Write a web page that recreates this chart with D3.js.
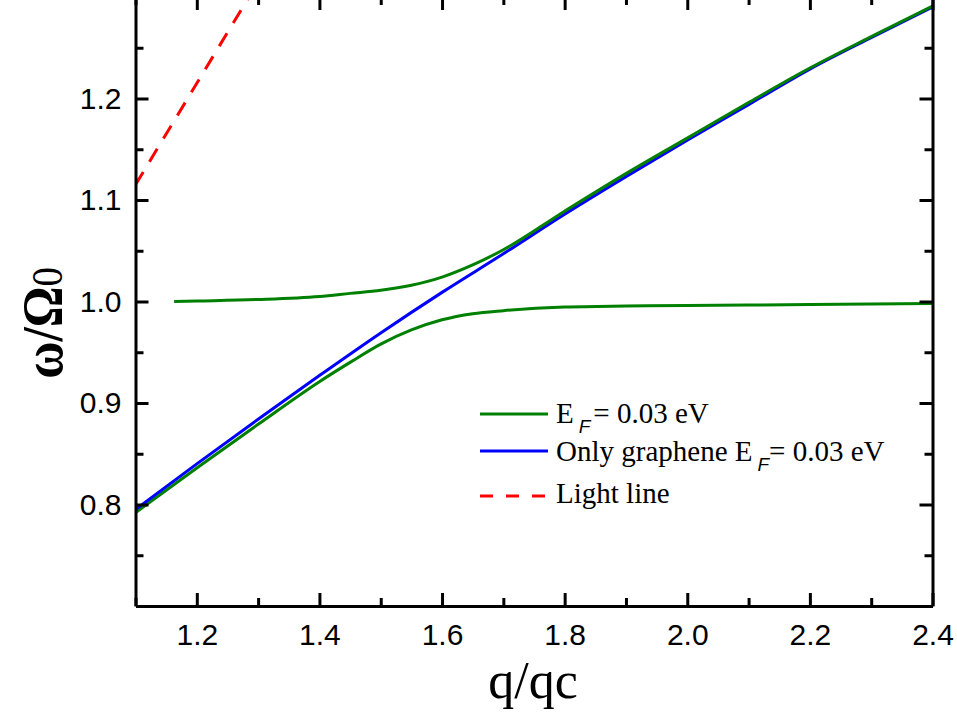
<!DOCTYPE html>
<html>
<head>
<meta charset="utf-8">
<script src="https://cdn.jsdelivr.net/npm/d3@7"></script>
<style>
  html, body { margin: 0; padding: 0; background: #fff; }
  svg { display: block; }
</style>
</head>
<body>
<svg id="chart" width="957" height="718"></svg>
<script>
// ---------- data ----------
const lowerGreenQ = [1.1, 1.2, 1.3, 1.4, 1.45, 1.5, 1.55, 1.6, 1.65, 1.7, 1.8, 1.9, 2.0, 2.2, 2.4];
const lowerGreenW = [0.792, 0.836, 0.879, 0.921, 0.940, 0.958, 0.972, 0.982, 0.988, 0.991, 0.9945, 0.9955, 0.996, 0.997, 0.998];

const upperGreenQ = [1.163, 1.2, 1.3, 1.4, 1.45, 1.5, 1.55, 1.6, 1.65, 1.7, 1.8, 1.9, 2.0, 2.1, 2.2, 2.3, 2.4];
const upperGreenW = [1.000, 1.0005, 1.002, 1.005, 1.008, 1.011, 1.016, 1.024, 1.036, 1.051, 1.089, 1.126, 1.161, 1.196, 1.230, 1.261, 1.291];

const grapheneQ = [1.1, 1.2, 1.3, 1.4, 1.5, 1.6, 1.7, 1.8, 1.9, 2.0, 2.1, 2.2, 2.3, 2.4];
const grapheneW = [0.795, 0.840, 0.884, 0.927, 0.969, 1.009, 1.047, 1.086, 1.123, 1.159, 1.194, 1.229, 1.260, 1.290];

const lightQ = [1.1, 1.3];
const lightW = [1.115, 1.315];

const xMajorTicks = [1.2, 1.4, 1.6, 1.8, 2.0, 2.2, 2.4];
const xMinorTicks = [1.1, 1.3, 1.5, 1.7, 1.9, 2.1, 2.3];
const yMajorTicks = [0.8, 0.9, 1.0, 1.1, 1.2];
const yMinorTicks = [0.75, 0.85, 0.95, 1.05, 1.15, 1.25];

const legendLabels = ["E_F = 0.03 eV", "Only graphene E_F= 0.03 eV", "Light line"];

// ---------- layout ----------
const svg = d3.select("#chart");
const pLeft = 135.5, pRight = 932.5, pTop = -3, pBottom = 606;

const x = d3.scaleLinear().domain([1.1, 2.4]).range([pLeft, pRight]);
const y = d3.scaleLinear().domain([0.7, 1.3]).range([pBottom, pTop]);

svg.append("defs").append("clipPath").attr("id", "clip")
  .append("rect").attr("x", pLeft).attr("y", pTop).attr("width", pRight - pLeft).attr("height", pBottom - pTop);

const line = d3.line().x(d => x(d[0])).y(d => y(d[1])).curve(d3.curveMonotoneX);
const zip = (a, b) => a.map((v, i) => [v, b[i]]);

const plot = svg.append("g").attr("clip-path", "url(#clip)");

plot.append("path").datum(zip(lightQ, lightW))
  .attr("d", line).attr("fill", "none").attr("stroke", "#ff0000")
  .attr("stroke-width", 3).attr("stroke-dasharray", "15,12");

plot.append("path").datum(zip(lowerGreenQ, lowerGreenW))
  .attr("d", line).attr("fill", "none").attr("stroke", "#008000").attr("stroke-width", 3);
plot.append("path").datum(zip(grapheneQ, grapheneW))
  .attr("d", line).attr("fill", "none").attr("stroke", "#0000ff").attr("stroke-width", 3);
plot.append("path").datum(zip(upperGreenQ, upperGreenW))
  .attr("d", line).attr("fill", "none").attr("stroke", "#008000").attr("stroke-width", 3);

// ---------- axes ----------
const tickFont = "'Liberation Sans', Arial, sans-serif";
function styleAxis(g) {
  g.select(".domain").attr("stroke", "#000").attr("stroke-width", 3);
  g.selectAll(".tick line").attr("stroke", "#000").attr("stroke-width", 3);
  g.selectAll("text").attr("font-family", tickFont).attr("font-size", 30).attr("fill", "#000");
}
function styleMinor(g) {
  g.select(".domain").remove();
  g.selectAll(".tick line").attr("stroke", "#000").attr("stroke-width", 3);
}

// bottom
svg.append("g").attr("transform", `translate(0,${pBottom})`)
  .call(d3.axisBottom(x).tickValues(xMajorTicks).tickFormat(d3.format(".1f"))
    .tickSizeInner(-13).tickSizeOuter(0).tickPadding(18))
  .call(styleAxis);
svg.append("g").attr("transform", `translate(0,${pBottom})`)
  .call(d3.axisBottom(x).tickValues(xMinorTicks).tickFormat("").tickSizeInner(-8).tickSizeOuter(0))
  .call(styleMinor);

// top
svg.append("g").attr("transform", `translate(0,${pTop})`)
  .call(d3.axisTop(x).tickValues(xMajorTicks).tickFormat("").tickSizeInner(-13).tickSizeOuter(0))
  .call(styleAxis);
svg.append("g").attr("transform", `translate(0,${pTop})`)
  .call(d3.axisTop(x).tickValues(xMinorTicks).tickFormat("").tickSizeInner(-8).tickSizeOuter(0))
  .call(styleMinor);

// left
svg.append("g").attr("transform", `translate(${pLeft},0)`)
  .call(d3.axisLeft(y).tickValues(yMajorTicks).tickFormat(d3.format(".1f"))
    .tickSizeInner(-13).tickSizeOuter(0).tickPadding(14))
  .call(styleAxis);
svg.append("g").attr("transform", `translate(${pLeft},0)`)
  .call(d3.axisLeft(y).tickValues(yMinorTicks).tickFormat("").tickSizeInner(-8).tickSizeOuter(0))
  .call(styleMinor);

// right
svg.append("g").attr("transform", `translate(${pRight},0)`)
  .call(d3.axisRight(y).tickValues(yMajorTicks).tickFormat("").tickSizeInner(-13).tickSizeOuter(0))
  .call(styleAxis);
svg.append("g").attr("transform", `translate(${pRight},0)`)
  .call(d3.axisRight(y).tickValues(yMinorTicks).tickFormat("").tickSizeInner(-8).tickSizeOuter(0))
  .call(styleMinor);

// ---------- axis titles ----------
const serif = "'Liberation Serif', 'Times New Roman', serif";
svg.append("text")
  .attr("x", 533).attr("y", 698)
  .attr("text-anchor", "middle")
  .attr("font-family", serif).attr("font-size", 52)
  .text("q/qc");

const yt = svg.append("text")
  .attr("transform", "translate(62,323) rotate(-90) scale(0.88,1)")
  .attr("text-anchor", "middle")
  .attr("font-family", serif).attr("font-size", 58).attr("font-weight", "bold");
yt.append("tspan").text("ω/Ω");
yt.append("tspan").attr("font-size", 44).attr("font-weight", "normal").text("0");

// ---------- legend ----------
const legend = svg.append("g");
const legRows = [
  { color: "#008000", dash: null, y: 414, base: 423, eqDx: 3 },
  { color: "#0000ff", dash: null, y: 451, base: 461, eqDx: 0 },
  { color: "#ff0000", dash: "13,13", y: 496, base: 503, eqDx: 0 }
];
legRows.forEach((r, i) => {
  legend.append("line").attr("x1", 480).attr("x2", 548).attr("y1", r.y).attr("y2", r.y)
    .attr("stroke", r.color).attr("stroke-width", 3)
    .attr("stroke-dasharray", r.dash);
  const t = legend.append("text").attr("x", 556).attr("y", r.base)
    .attr("font-family", serif).attr("font-size", 29).attr("fill", "#000");
  const lab = legendLabels[i];
  if (lab.includes("_F")) {
    const [pre, post] = lab.split("_F");
    t.append("tspan").text(pre);
    t.append("tspan").attr("font-family", tickFont).attr("font-style", "italic")
      .attr("font-size", 19).attr("dx", 5).attr("dy", 10).text("F");
    t.append("tspan").attr("dx", r.eqDx).attr("dy", -10).text(post.replace(/^ /, ""));
  } else {
    t.text(lab);
  }
});
</script>
</body>
</html>
